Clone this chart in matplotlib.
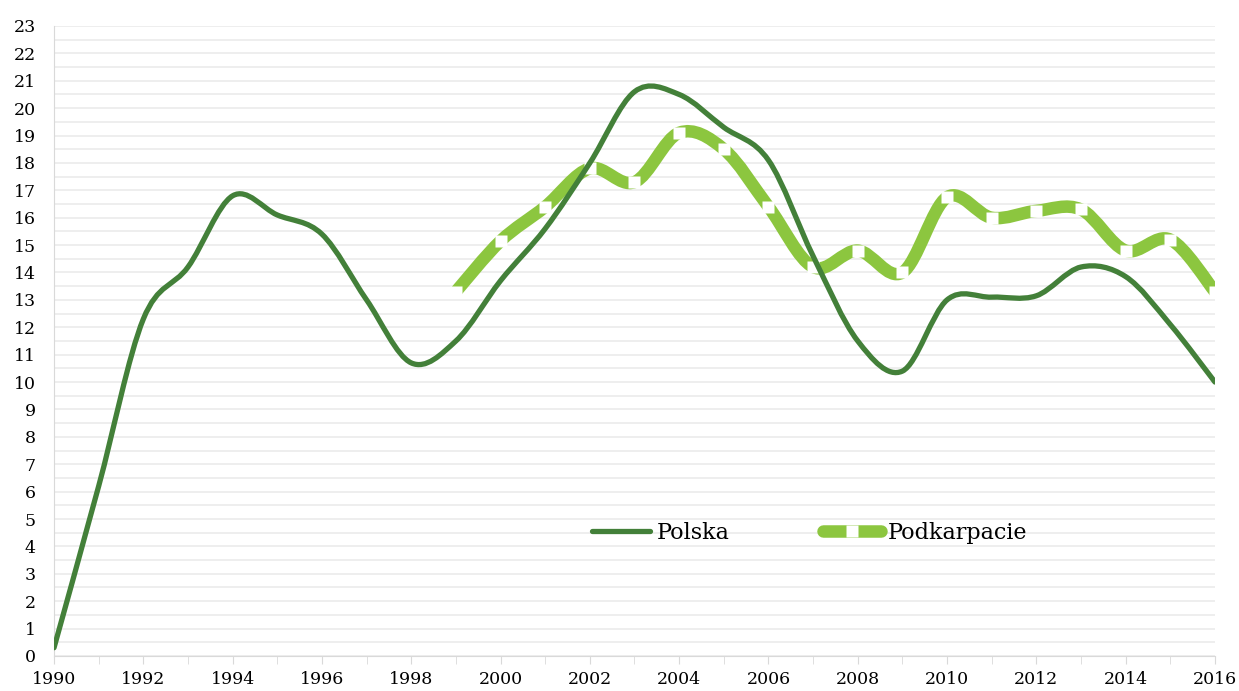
import numpy as np
import matplotlib.pyplot as plt
from matplotlib.path import Path
from matplotlib.patches import PathPatch
from matplotlib.lines import Line2D

plt.rcParams['font.family'] = ['DejaVu Serif']

years_pl = list(range(1990, 2017))
polska = [0.3, 6.2, 12.3, 14.2, 16.8, 16.1, 15.4, 13.0, 10.7, 11.5, 13.7, 15.6, 18.0,
          20.6, 20.5, 19.3, 18.1, 14.6, 11.5, 10.4, 13.0, 13.1, 13.15, 14.2, 13.85, 12.1, 10.0]
years_pk = list(range(1999, 2017))
podkarpacie = [13.3, 15.15, 16.4, 17.8, 17.3, 19.1, 18.5, 16.4, 14.2, 14.8, 14.0, 16.75,
               16.0, 16.25, 16.3, 14.8, 15.2, 13.3]

dark = '#438039'
light = '#8cc63f'


def smooth_path(x, y):
    # excel-like smoothed line: cubic bezier segments through every point
    p = np.column_stack([x, y]).astype(float)
    n = len(p)
    verts = [p[0]]
    codes = [Path.MOVETO]
    for i in range(n - 1):
        p0 = p[i - 1] if i > 0 else p[i]
        p3 = p[i + 2] if i + 2 < n else p[i + 1]
        c1 = p[i] + (p[i + 1] - p0) / 6.0
        c2 = p[i + 1] - (p3 - p[i]) / 6.0
        verts += [c1, c2, p[i + 1]]
        codes += [Path.CURVE4] * 3
    return Path(verts, codes)


fig = plt.figure(figsize=(12.39, 6.91), dpi=100)
ax = fig.add_axes([0.0436, 0.0507, 0.937, 0.9117])

ax.add_patch(PathPatch(smooth_path(years_pk, podkarpacie), fill=False, edgecolor=light,
                       lw=9, capstyle='butt', joinstyle='round', zorder=3))
ax.plot(years_pk, podkarpacie, ls='none', marker='s', ms=8, mfc='white', mec='none', zorder=4)
ax.add_patch(PathPatch(smooth_path(years_pl, polska), fill=False, edgecolor=dark,
                       lw=3.8, capstyle='round', joinstyle='round', zorder=5))

ax.set_xlim(1990, 2016)
ax.set_ylim(0, 23)
ax.set_yticks(range(0, 24))
ax.set_yticks(np.arange(0.5, 23, 1), minor=True)
ax.set_xticks(range(1990, 2017, 2))
ax.set_xticks(range(1990, 2017), minor=True)
ax.grid(axis='y', which='both', color='#ebebeb', lw=1.2, zorder=0)
ax.set_axisbelow(True)
ax.tick_params(axis='y', which='both', length=0, labelsize=12.5, pad=13)
ax.tick_params(axis='x', which='both', length=6, color='#d9d9d9', labelsize=12.5, pad=5)
for s in ['top', 'right']:
    ax.spines[s].set_visible(False)
for s in ['left', 'bottom']:
    ax.spines[s].set_color('#d9d9d9')

handles = [Line2D([], [], color=dark, lw=3.8, solid_capstyle='round'),
           Line2D([], [], color=light, lw=9, marker='s', ms=8, mfc='white', mec='none',
                  solid_capstyle='round')]
ax.legend(handles, ['Polska', 'Podkarpacie'], ncol=2, loc='center', numpoints=1,
          bbox_to_anchor=(0.651, 0.195), frameon=False, fontsize=16,
          handlelength=2.6, handletextpad=0.3, columnspacing=4.2)

fig.savefig('out.png', dpi=100)
